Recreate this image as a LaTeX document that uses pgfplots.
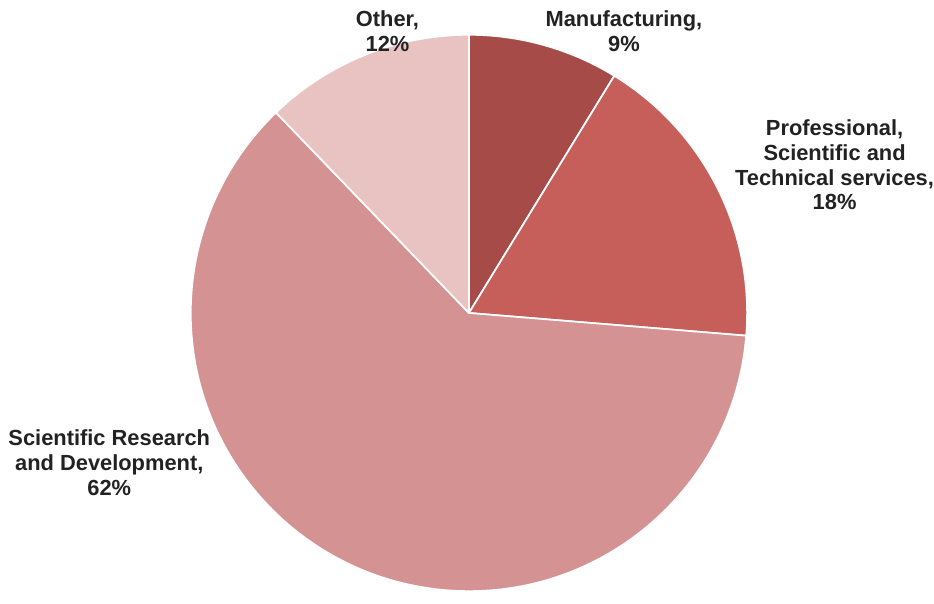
\documentclass[border=0pt]{standalone}
\usepackage{pgfplots}
\pgfplotsset{compat=1.18}
\usepackage{pgfplotstable}
\usepackage{fontspec}
\setmainfont{Liberation Sans}

\definecolor{cManu}{HTML}{A64B48}
\definecolor{cProf}{HTML}{C65E59}
\definecolor{cSRD}{HTML}{D49292}
\definecolor{cOther}{HTML}{E8C3C1}
\definecolor{txt}{HTML}{222222}

% share of each slice (clockwise from 12 o'clock)
\pgfplotstableread{
name value color
Manufacturing 8.75 cManu
Professional 17.55 cProf
SRD 61.5 cSRD
Other 12.2 cOther
}\piedata

\begin{document}
\begin{tikzpicture}
\begin{axis}[
  scale only axis, width=700.5pt, height=450pt,
  xmin=0, xmax=934, ymin=0, ymax=600,
  hide axis, clip=false]
\pgfplotsextra{
  \def\cumul{0}
  \pgfplotsforeachungrouped \i in {0,...,3}{
    \pgfplotstablegetelem{\i}{value}\of\piedata \let\sliceval\pgfplotsretval
    \pgfplotstablegetelem{\i}{color}\of\piedata \let\slicecol\pgfplotsretval
    \pgfmathsetmacro\sa{90-\cumul*3.6}
    \pgfmathsetmacro\cumul{\cumul+\sliceval}
    \pgfmathsetmacro\ea{90-\cumul*3.6}
    \edef\doslice{\noexpand\fill[\slicecol, draw=white, line width=1.3pt, line join=round]
      (axis cs:472,285) -- ++(\sa:210pt) arc[start angle=\sa, end angle=\ea, radius=210pt] -- cycle;}
    \doslice
  }
}
\path (axis cs:0,0) rectangle (axis cs:934,600);
\tikzset{lab/.style={align=center, font=\fontsize{16.5}{18.75}\selectfont\bfseries, text=txt, inner sep=0pt}}
\node[lab] at (axis cs:390,569) {Other,\\12\%};
\node[lab] at (axis cs:628,569) {Manufacturing,\\9\%};
\node[lab] at (axis cs:840,434) {Professional,\\Scientific and\\Technical services,\\18\%};
\node[lab] at (axis cs:110,134) {Scientific Research\\and Development,\\62\%};
\end{axis}
\end{tikzpicture}
\end{document}
